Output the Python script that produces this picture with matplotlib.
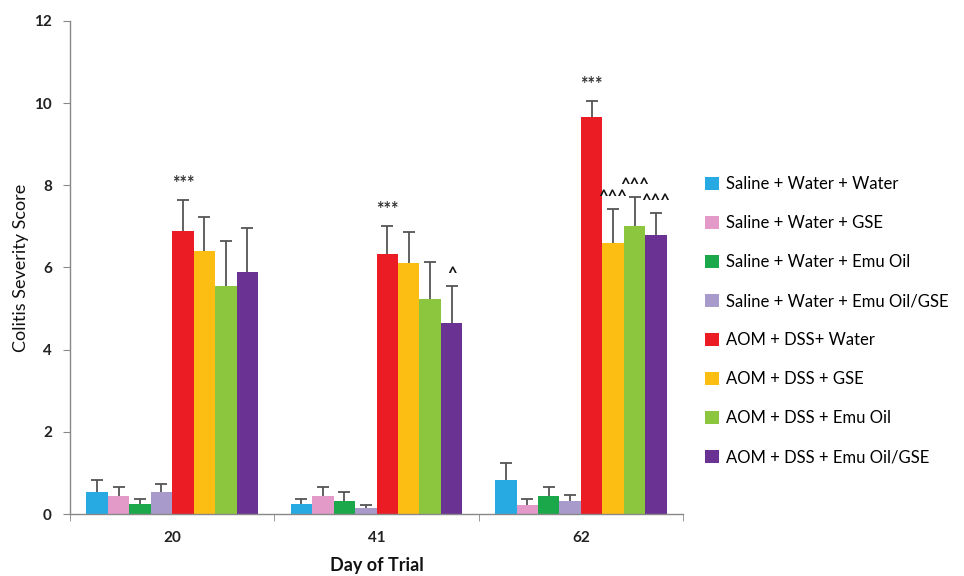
import matplotlib
matplotlib.use("Agg")
import matplotlib.pyplot as plt
import numpy as np

# data
days = ["20", "41", "62"]
groups = ["Saline + Water + Water", "Saline + Water + GSE", "Saline + Water + Emu Oil",
          "Saline + Water + Emu Oil/GSE", "AOM + DSS+ Water", "AOM + DSS + GSE",
          "AOM + DSS + Emu Oil", "AOM + DSS + Emu Oil/GSE"]
colors = ["#27A9E1", "#E49AC8", "#1BA84A", "#A89BCB", "#EC1C24", "#FDBE14", "#8CC63F", "#6A3393"]

means = [
    [0.54, 0.24, 0.84],
    [0.45, 0.45, 0.23],
    [0.24, 0.32, 0.45],
    [0.54, 0.15, 0.32],
    [6.90, 6.33, 9.66],
    [6.41, 6.10, 6.60],
    [5.56, 5.24, 7.01],
    [5.88, 4.66, 6.78],
]
errors = [
    [0.29, 0.12, 0.41],
    [0.20, 0.20, 0.13],
    [0.12, 0.21, 0.20],
    [0.20, 0.07, 0.15],
    [0.74, 0.68, 0.38],
    [0.83, 0.76, 0.82],
    [1.09, 0.89, 0.71],
    [1.07, 0.89, 0.55],
]
# significance marks: (group index, day index, text)
marks = [(4, 0, "***"), (4, 1, "***"), (4, 2, "***"), (7, 1, "^"),
         (5, 2, "^^^"), (6, 2, "^^^"), (7, 2, "^^^")]

font = "Lato"
fig = plt.figure(figsize=(9.64, 5.76), dpi=100)
ax = fig.add_axes([0.0726, 0.1076, 0.636, 0.856])

x = np.arange(len(days))
bar_w = 0.105
for i in range(len(groups)):
    pos = x + (i - 3.5) * bar_w
    top = np.array(means[i]) + np.array(errors[i])
    ax.bar(pos, means[i], bar_w, color=colors[i], label=groups[i], zorder=2)
    # upper-only error bars
    ax.vlines(pos, means[i], top, color="#555555", linewidth=1.3, zorder=3)
    ax.plot(pos, top, linestyle="none", marker="_", markersize=8,
            markeredgewidth=1.3, color="#555555", zorder=3)

for g, d, txt in marks:
    px = x[d] + (g - 3.5) * bar_w
    top = means[g][d] + errors[g][d]
    if txt.startswith("*"):
        ax.text(px, top + 0.2, txt, ha="center", va="bottom", fontsize=13,
                fontweight="bold", color="#333333", family=font)
    else:
        ax.text(px, top + 0.1, txt, ha="center", va="bottom", fontsize=12,
                fontweight="bold", color="#111111", family=font)

ax.set_xlim(-0.5, 2.5)
ax.set_ylim(0, 12)
ax.set_yticks(range(0, 13, 2))
ax.set_xticks(x)
ax.set_xticklabels(days)
ax.set_xticks([-0.5, 0.5, 1.5, 2.5], minor=True)
ax.tick_params(axis="x", which="major", length=0, pad=12)
ax.tick_params(axis="x", which="minor", length=5, color="#888888")
ax.tick_params(axis="y", length=5, color="#888888", pad=8)
for lab in ax.get_xticklabels() + ax.get_yticklabels():
    lab.set_family(font)
    lab.set_fontweight("bold")
    lab.set_fontsize(11)
    lab.set_color("#222222")

for s in ["top", "right"]:
    ax.spines[s].set_visible(False)
for s in ["left", "bottom"]:
    ax.spines[s].set_color("#888888")
    ax.spines[s].set_linewidth(1.0)

ax.set_ylabel("Colitis Severity Score", fontsize=13, family=font, labelpad=4, color="#111111")
ax.set_xlabel("Day of Trial", fontsize=13, fontweight="bold", family=font, labelpad=9, color="#111111")

leg = fig.legend(loc="center left", bbox_to_anchor=(0.716, 0.443), frameon=False,
                 prop={"family": font, "size": 12}, handlelength=0.8, handleheight=0.8,
                 handletextpad=0.45, labelspacing=1.38)

fig.savefig("out.png", dpi=100)
